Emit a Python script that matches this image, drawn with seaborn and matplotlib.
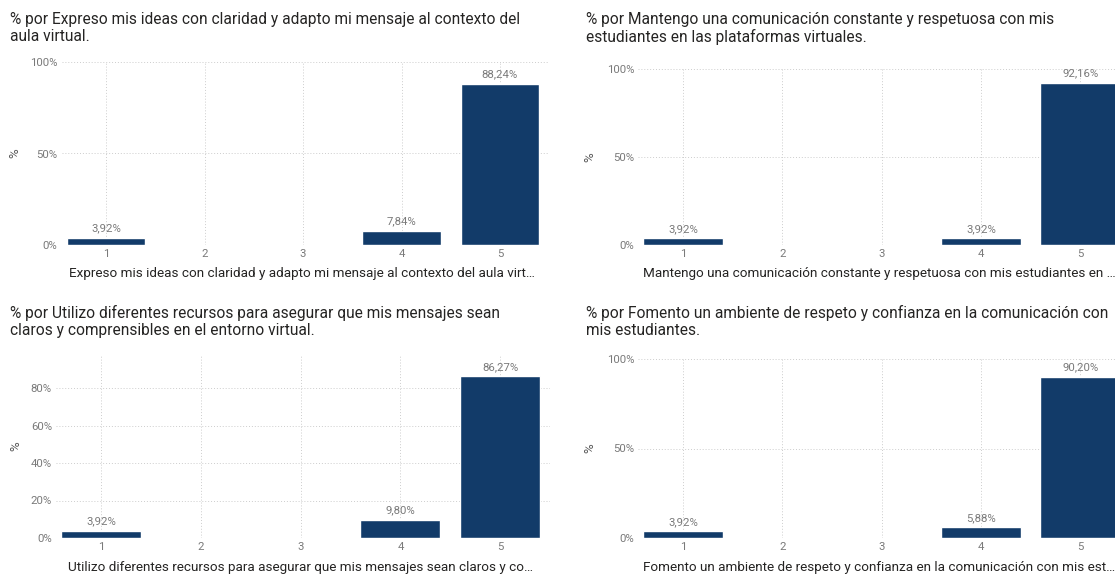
import matplotlib
matplotlib.use("Agg")
import matplotlib.pyplot as plt
import seaborn as sns
import pandas as pd

# Survey answers on a 1-5 scale, share of respondents per answer (%)
categories = ["1", "2", "3", "4", "5"]

expreso_vals = [3.92, 0.0, 0.0, 7.84, 88.24]
mantengo_vals = [3.92, 0.0, 0.0, 3.92, 92.16]
utilizo_vals = [3.92, 0.0, 0.0, 9.80, 86.27]
fomento_vals = [3.92, 0.0, 0.0, 5.88, 90.20]

titles = [
    "% por Expreso mis ideas con claridad y adapto mi mensaje al contexto del\naula virtual.",
    "% por Mantengo una comunicación constante y respetuosa con mis\nestudiantes en las plataformas virtuales.",
    "% por Utilizo diferentes recursos para asegurar que mis mensajes sean\nclaros y comprensibles en el entorno virtual.",
    "% por Fomento un ambiente de respeto y confianza en la comunicación con\nmis estudiantes.",
]
xlabels = [
    "Expreso mis ideas con claridad y adapto mi mensaje al contexto del aula virt…",
    "Mantengo una comunicación constante y respetuosa con mis estudiantes en …",
    "Utilizo diferentes recursos para asegurar que mis mensajes sean claros y co…",
    "Fomento un ambiente de respeto y confianza en la comunicación con mis est…",
]
yticks_sets = [[0, 50, 100], [0, 50, 100], [0, 20, 40, 60, 80], [0, 50, 100]]
ymax_sets = [100, 100, 97.6, 100]
series = [expreso_vals, mantengo_vals, utilizo_vals, fomento_vals]

sns.set_theme(style="white")
plt.rcParams["font.family"] = ["Roboto", "DejaVu Sans"]

BAR = "#123B69"
TITLE_C = "#252423"
TICK_C = "#7A7A7A"
GRID_C = "#CDCDCD"

W, H = 1115, 574
fig = plt.figure(figsize=(W / 100, H / 100), dpi=100)
fig.patch.set_facecolor("white")

# pixel geometry of each panel: first category centre, category step, top, bottom,
# title origin, y-label x, x-label centre
layout = [
    dict(c1=106, step=98.5, top=62, bottom=245, tx=10, ty=12, lx=15, xc=302),
    dict(c1=683, step=99.3, top=69, bottom=245, tx=586, ty=12, lx=590, xc=879),
    dict(c1=101, step=99.8, top=355, bottom=538, tx=10, ty=305, lx=16, xc=300),
    dict(c1=683, step=99.3, top=359, bottom=538, tx=586, ty=305, lx=590, xc=879),
]

XLO, XHI = -0.45, 4.5
SMALL = 8.2

for vals, title, xl, yt, ymax, g in zip(series, titles, xlabels, yticks_sets, ymax_sets, layout):
    left = g["c1"] + XLO * g["step"]
    right = g["c1"] + XHI * g["step"]
    ax = fig.add_axes([left / W, 1 - g["bottom"] / H, (right - left) / W,
                       (g["bottom"] - g["top"]) / H])
    df = pd.DataFrame({"cat": categories, "pct": vals})
    sns.barplot(data=df, x="cat", y="pct", order=categories, color=BAR,
                saturation=1, width=0.8, ax=ax, zorder=3)
    ax.set_xlim(XLO, XHI)
    ax.set_ylim(0, ymax)
    ax.set_yticks(yt)
    ax.set_yticklabels([f"{v}%" for v in yt])
    for s in ax.spines.values():
        s.set_visible(False)
    ax.grid(True, axis="both", color=GRID_C, linestyle=(0, (1, 2)), linewidth=0.7, zorder=0)
    ax.set_axisbelow(True)
    ax.tick_params(axis="both", length=0, labelsize=SMALL, labelcolor=TICK_C)
    ax.tick_params(axis="x", pad=3)
    ax.tick_params(axis="y", pad=3)

    labels = [f"{v:.2f}%".replace(".", ",") if v > 0 else "" for v in vals]
    ax.bar_label(ax.containers[0], labels=labels, padding=3, fontsize=SMALL,
                 color=TICK_C)

    ax.set_xlabel(xl, fontsize=9.7, color=TITLE_C, va="center")
    ax.xaxis.set_label_coords((g["xc"] - left) / (right - left),
                              -(274 - 245) / (g["bottom"] - g["top"]))
    ax.set_ylabel("%", fontsize=9.5, color="#555555", va="center")
    ax.yaxis.set_label_coords((g["lx"] - left) / (right - left), 0.5)

    fig.text(g["tx"] / W, 1 - g["ty"] / H, title, fontsize=11.2, color=TITLE_C,
             ha="left", va="top", linespacing=1.15)

fig.savefig("out.png", dpi=100, facecolor="white")
